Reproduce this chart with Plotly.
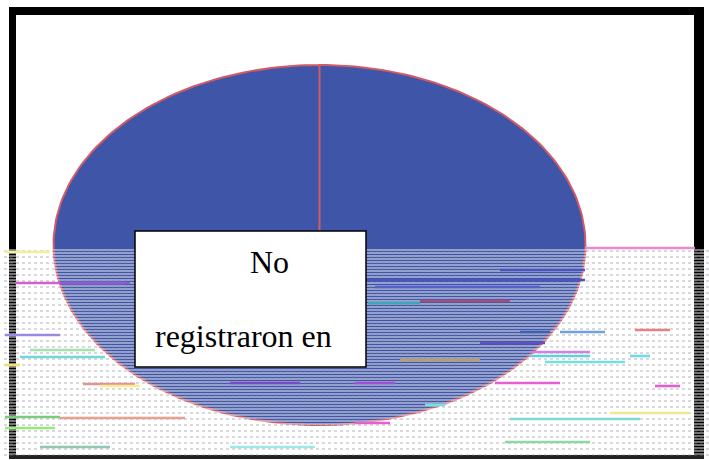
import math
import plotly.graph_objects as go

# Data
categories = ["No registraron en"]
values = [100]
box_lines = ["No", "registraron en"]

# Scan-damage streaks
streak_y = [248, 252, 270, 280, 283, 283, 287, 301, 303, 330, 332, 332, 335, 343, 350, 352, 356, 357, 356, 360, 362, 365,
            383, 383, 383, 384, 386, 386, 405, 413, 417, 419, 423, 428, 418, 442, 447, 447]
streak_x0 = [585, 5, 500, 355, 15, 60, 375, 420, 368, 635, 520, 560, 5, 480, 30, 530, 530, 20, 630, 400, 545, 5,
             230, 355, 495, 83, 100, 655, 425, 610, 5, 510, 355, 5, 60, 505, 40, 230]
streak_x1 = [695, 50, 585, 585, 125, 130, 540, 510, 420, 670, 550, 605, 60, 545, 95, 590, 590, 105, 650, 480, 625, 20,
             300, 395, 560, 135, 140, 680, 445, 690, 60, 640, 390, 55, 185, 590, 110, 315]
streak_c = ["#e88ad0", "#f4ee9a", "#4a55c0", "#4a55c0", "#d45fd0", "#8a5fd0", "#5560c8", "#a0507a", "#3aa8b8", "#e88080",
            "#4060b0", "#70a0e0", "#9a8ae0", "#6050c0", "#a8e0b0", "#d080e0", "#60d0e0", "#70d8d8", "#70d8e8", "#b8a060",
            "#70e0e0", "#eee070", "#7a4bc0", "#a050d0", "#e860d0", "#e89090", "#f6ee90", "#e060d0", "#70e0e0", "#f0e890",
            "#7dc97d", "#80d8d8", "#e860d0", "#98ea78", "#e8a090", "#90d8a0", "#90c8b0", "#9fe8e8"]

W, H = 709, 460
CX, CY, RX, RY = 319.5, 245, 266, 180

fig = go.Figure()

# Pie slice drawn as stretched sector, angles derived from the values
total = sum(values)
start = 0.0
for cat, v in zip(categories, values):
    n = 240
    angs = [start + (v / total) * 2 * math.pi * i / n for i in range(n + 1)]
    xs = [CX] + [CX + RX * math.sin(a) for a in angs] + [CX]
    ys = [CY] + [CY - RY * math.cos(a) for a in angs] + [CY]
    fig.add_trace(go.Scatter(x=xs, y=ys, mode="lines", fill="toself", fillcolor="#3f56a8",
                             line=dict(color="#cf5a68", width=2), name=cat, hoverinfo="name"))
    start += (v / total) * 2 * math.pi

shapes = []
def line(x0, y0, x1, y1, color, width=1, dash=None):
    shapes.append(dict(type="line", xref="x", yref="y", x0=x0, y0=y0, x1=x1, y1=y1, layer="above",
                       line=dict(color=color, width=width, dash=dash or "solid")))

# Frame
line(9, 11, 704, 11, "#000000", 8)
line(12.5, 7, 12.5, 456, "#000000", 7)
line(699, 7, 699, 456, "#000000", 10)
line(9, 457, 704, 457, "#222222", 4)

# Damaged rows
for y in range(250, 456, 3):
    line(4, y, 709, y, "rgba(255,255,255,0.6)", 1.6)
for y in range(251, 456, 6):
    line(4, y, 709, y, "rgba(130,130,145,0.6)", 1.2, "dot")
for y, a, b, c in zip(streak_y, streak_x0, streak_x1, streak_c):
    line(a, y, b, y, c, 2.6)

# Label box
shapes.append(dict(type="rect", xref="x", yref="y", x0=135, y0=231, x1=366, y1=367, layer="above",
                   fillcolor="#ffffff", line=dict(color="#000000", width=1.5)))

annotations = [
    dict(x=269, y=262, text=box_lines[0]),
    dict(x=243, y=336, text=box_lines[1]),
]
for a in annotations:
    a.update(xref="x", yref="y", showarrow=False, xanchor="center", yanchor="middle",
             font=dict(family="Liberation Serif", size=32, color="#000000"))

fig.update_layout(
    width=W, height=H, margin=dict(l=0, r=0, t=0, b=0),
    paper_bgcolor="#ffffff", plot_bgcolor="#ffffff", showlegend=False,
    xaxis=dict(range=[0, W], visible=False, fixedrange=True),
    yaxis=dict(range=[H, 0], visible=False, fixedrange=True),
    shapes=shapes, annotations=annotations,
)
fig.write_html("out.html", config=dict(displayModeBar=False),
               post_script="document.body.style.margin='0';document.documentElement.style.overflow='hidden';")
